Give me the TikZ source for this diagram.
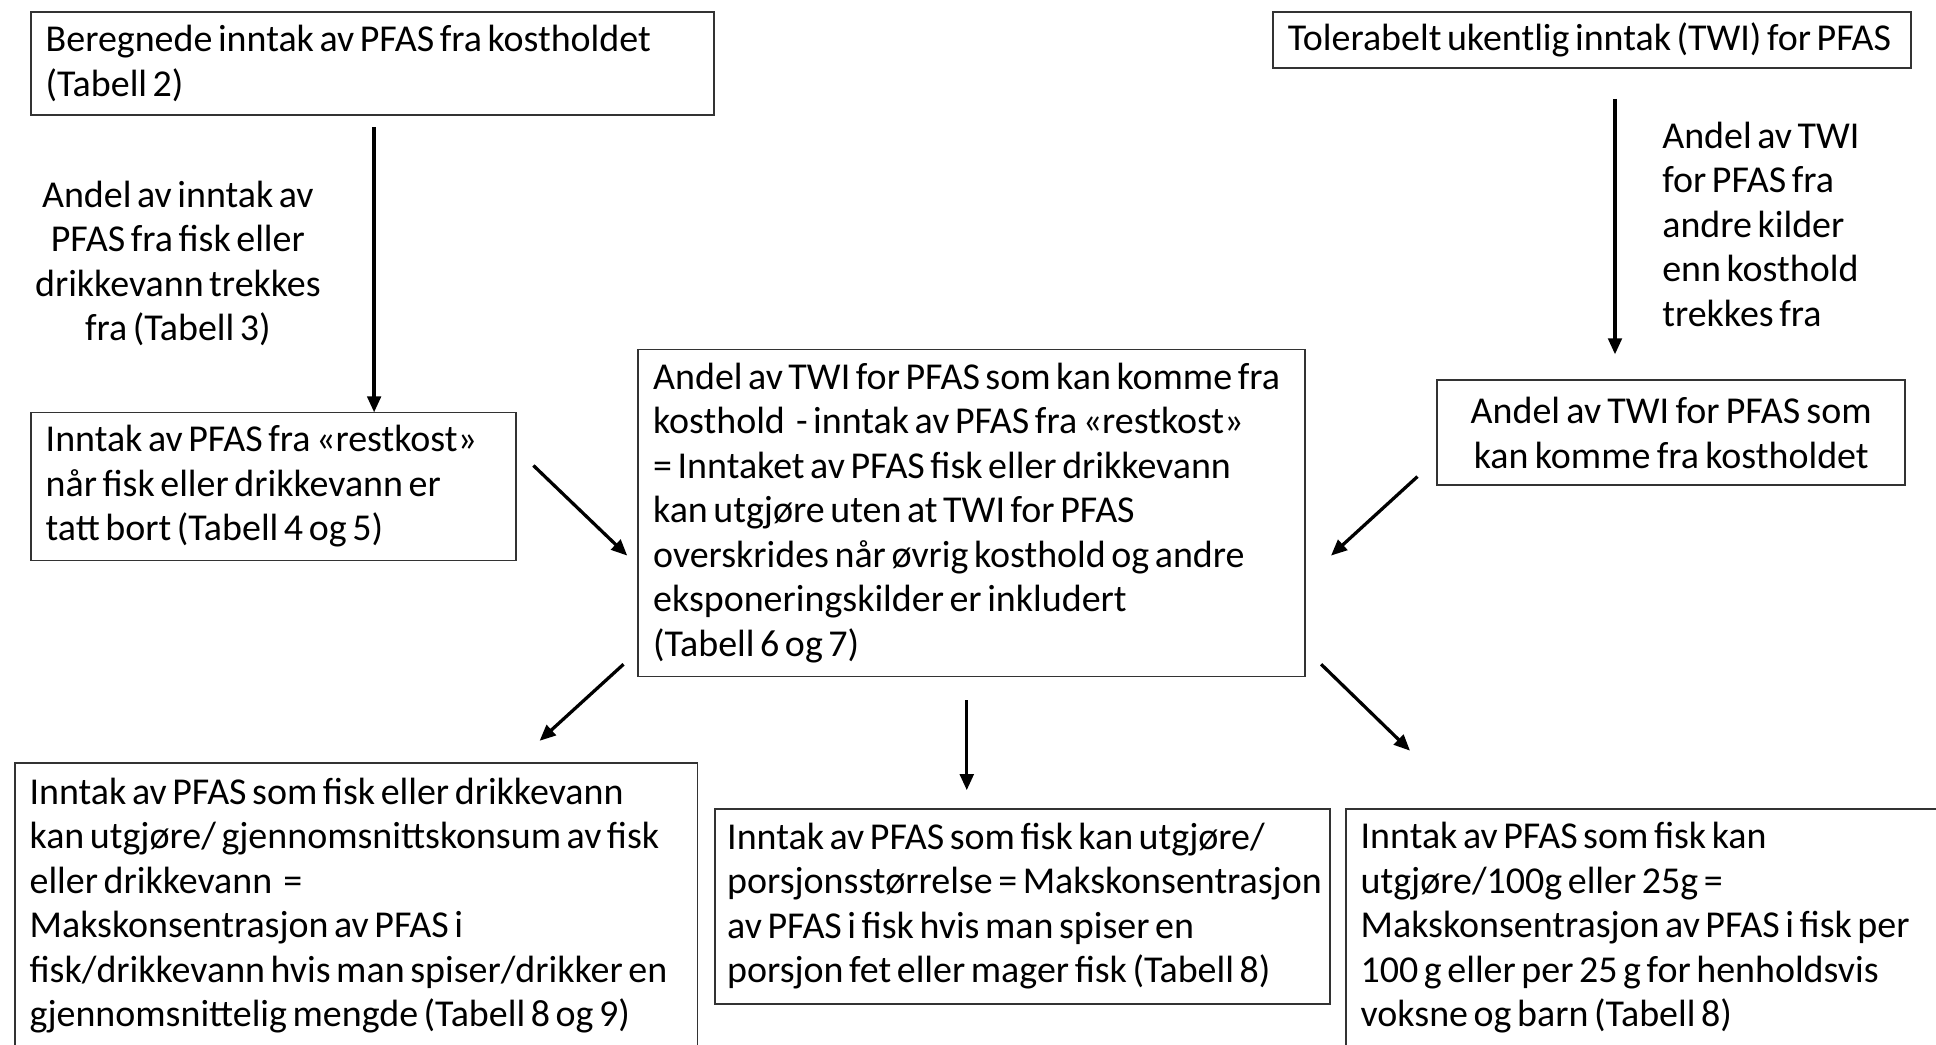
\documentclass[tikz,border=0pt]{standalone}
\usepackage{fontspec}
\setmainfont{Carlito}[WordSpace=0.65]
\usepackage{tikz}
\usetikzlibrary{arrows.meta,positioning}

\begin{document}
\begin{tikzpicture}[
    box/.style={draw=black!80, line width=0.8pt, anchor=north west, align=left, inner xsep=0.24cm, inner ysep=0.1cm, outer sep=0pt, font=\fontsize{17.5}{20.5}\selectfont, execute at begin node={\spaceskip=0pt\hyphenpenalty=10000}},
    lbl/.style={align=center, inner sep=0pt, font=\fontsize{17.5}{20.5}\selectfont},
    arr/.style={-{Triangle[length=2.6mm, width=2.2mm]}, line width=1.5pt}
  ]
    \path[use as bounding box] (0,0) rectangle (31.36,-16.92);
    \clip (0,0) rectangle (31.36,-16.92);

    \node[box, text width=10.58cm, minimum height=1.66cm] (a) at (0.50,-0.20) {Beregnede inntak av PFAS fra kostholdet\\(Tabell 2)};
    \node[box, text width=9.86cm, minimum height=0.90cm] (twi) at (20.62,-0.20) {Tolerabelt ukentlig inntak (TWI) for PFAS};
    \node[box, text width=7.38cm, minimum height=2.40cm] (b) at (0.50,-6.68) {Inntak av PFAS fra «restkost»\\når fisk eller drikkevann er\\tatt bort (Tabell 4 og 5)};
    \node[box, text width=10.32cm, minimum height=5.30cm] (c) at (10.34,-5.66) {Andel av TWI for PFAS som kan komme fra\\kosthold \ - inntak av PFAS fra «restkost»\\= Inntaket av PFAS fisk eller drikkevann\\kan utgjøre uten at TWI for PFAS\\overskrides når øvrig kosthold og andre\\eksponeringskilder er inkludert\\(Tabell 6 og 7)};
    \node[box, align=center, text width=7.10cm, minimum height=1.70cm] (d) at (23.28,-6.16) {Andel av TWI for PFAS som\\kan komme fra kostholdet};
    \node[box, text width=10.58cm, minimum height=4.62cm] (e) at (0.24,-12.36) {Inntak av PFAS som fisk eller drikkevann\\kan utgjøre/ gjennomsnittskonsum av fisk\\eller drikkevann \ =\\Makskonsentrasjon av PFAS i\\fisk/drikkevann hvis man spiser/drikker en\\gjennomsnittelig mengde (Tabell 8 og 9)};
    \node[box, inner xsep=0.2cm, text width=9.56cm, minimum height=3.16cm] (f) at (11.58,-13.10) {Inntak av PFAS som fisk kan utgjøre/\\\mbox{porsjonsstørrelse = Makskonsentrasjon}\\av PFAS i fisk hvis man spiser en\\porsjon fet eller mager fisk (Tabell 8)};
    \node[box, text width=9.22cm, minimum height=3.86cm] (g) at (21.80,-13.10) {Inntak av PFAS som fisk kan\\utgjøre/100g eller 25g =\\Makskonsentrasjon av PFAS i fisk per\\100 g eller per 25 g for henholdsvis\\voksne og barn (Tabell 8)};

    \draw[arr, shorten <=0.2cm] ([xshift=0.03cm]a.south) -- node[midway, left=0.84cm, lbl] {Andel av inntak av\\PFAS fra fisk eller\\drikkevann trekkes\\fra (Tabell 3)} ([xshift=0.03cm]a.south |- b.north);
    \draw[arr, shorten <=0.5cm, shorten >=0.42cm] ([xshift=0.37cm]twi.south) -- node[midway, right=0.74cm, lbl, align=left] {Andel av TWI\\for PFAS fra\\andre kilder\\enn kosthold\\trekkes fra} ([xshift=0.37cm]twi.south |- d.north);
    \draw[arr] ([xshift=0.28cm, yshift=0.34cm]b.east) -- ([xshift=-0.18cm, yshift=-0.69cm]c.west);
    \draw[arr] ([xshift=-0.32cm, yshift=-0.71cm]d.west) -- ([xshift=0.42cm, yshift=-0.69cm]c.east);
    \draw[arr] ([xshift=-0.24cm, yshift=0.2cm]c.south west) -- ([xshift=-2.56cm, yshift=0.36cm]e.north east);
    \draw[arr, shorten <=0.38cm, shorten >=0.3cm] ([xshift=-0.08cm]c.south) -- ([xshift=-0.08cm]c.south |- f.north);
    \draw[arr] ([xshift=0.26cm, yshift=0.2cm]c.south east) -- ([xshift=1.04cm, yshift=0.94cm]g.north west);
  \end{tikzpicture}
\end{document}
